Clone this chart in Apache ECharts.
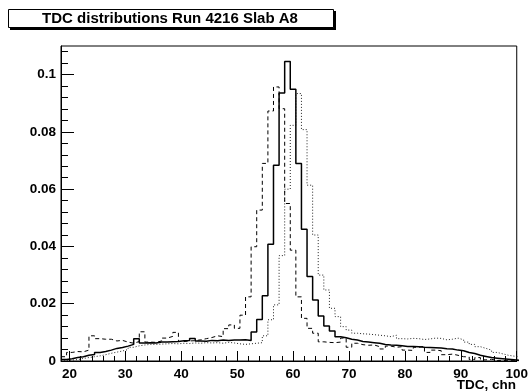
<!DOCTYPE html>
<html>
<head>
<meta charset="utf-8">
<script src="https://cdn.jsdelivr.net/npm/echarts@6/dist/echarts.min.js"></script>
<style>
html,body{margin:0;padding:0;background:#fff;}
#c{width:531px;height:392px;}
</style>
</head>
<body>
<div id="c"></div>
<script>
// TDC channels (bin centres, bin width 1)
const channels = [];
for (let c = 19; c <= 100; c++) channels.push(c);

// solid histogram
const solidVals = [
0.0005,0.0008,0.0012,0.0015,0.0020,0.0023,0.0030,0.0033,0.0038,0.0044, // 19-28
0.0047,0.0052,0.0058,0.0078,0.0063,0.0064,0.0063,0.0066,0.0066,0.0067, // 29-38
0.0068,0.0071,0.0072,0.0079,0.0070,0.0069,0.0072,0.0071,0.0073,0.0072, // 39-48
0.0073,0.0073,0.0074,0.0072,0.0101,0.0145,0.0228,0.0408,0.0684,0.0936, // 49-58
0.1046,0.0949,0.0690,0.0460,0.0295,0.0213,0.0157,0.0122,0.0105,0.0085, // 59-68
0.0081,0.0076,0.0073,0.0068,0.0066,0.0064,0.0062,0.0058,0.0056,0.0055, // 69-78
0.0053,0.0051,0.0051,0.0050,0.0048,0.0047,0.0046,0.0045,0.0043,0.0042, // 79-88
0.0038,0.0036,0.0030,0.0026,0.0020,0.0016,0.0012,0.0010,0.0008,0.0006, // 89-98
0.0004,0.0002                                                          // 99-100
];
// dashed histogram
const dashedVals = [
0.0015,0.0030,0.0033,0.0032,0.0038,0.0088,0.0078,0.0076,0.0076,0.0070,
0.0072,0.0066,0.0062,0.0068,0.0102,0.0066,0.0065,0.0070,0.0080,0.0086,
0.0100,0.0068,0.0070,0.0071,0.0074,0.0078,0.0082,0.0088,0.0085,0.0113,
0.0126,0.0114,0.0160,0.0224,0.0399,0.0527,0.0690,0.0873,0.0957,0.0881,
0.0550,0.0387,0.0224,0.0149,0.0114,0.0097,0.0067,0.0065,0.0064,0.0066,
0.0080,0.0048,0.0062,0.0057,0.0055,0.0056,0.0050,0.0042,0.0052,0.0048,
0.0050,0.0038,0.0037,0.0048,0.0052,0.0030,0.0038,0.0036,0.0022,0.0024,
0.0020,0.0015,0.0014,0.0005,0.0012,0.0004,0.0006,0.0002,0.0002,0.0001,
0.0001,0.0000
];
// dotted histogram
const dottedVals = [
0.0003,0.0003,0.0005,0.0009,0.0012,0.0015,0.0018,0.0022,0.0027,0.0031,
0.0035,0.0040,0.0048,0.0053,0.0056,0.0058,0.0058,0.0059,0.0060,0.0061,
0.0060,0.0062,0.0061,0.0063,0.0062,0.0064,0.0063,0.0064,0.0062,0.0065,
0.0063,0.0060,0.0058,0.0060,0.0062,0.0064,0.0088,0.0144,0.0196,0.0368,
0.0600,0.0823,0.0934,0.0808,0.0614,0.0440,0.0300,0.0248,0.0184,0.0155,
0.0120,0.0108,0.0097,0.0095,0.0094,0.0092,0.0090,0.0088,0.0085,0.0090,
0.0078,0.0077,0.0079,0.0078,0.0075,0.0077,0.0080,0.0079,0.0074,0.0076,
0.0080,0.0074,0.0066,0.0058,0.0050,0.0044,0.0038,0.0030,0.0025,0.0020,
0.0017,0.0015
];

const xMajorTicks = [20,30,40,50,60,70,80,90,100];
const xMinorTicks = [20,22,24,26,28,30,32,34,36,38,40,42,44,46,48,50,52,54,56,58,60,62,64,66,68,70,72,74,76,78,80,82,84,86,88,90,92,94,96,98,100];
const yMajorTicks = [0,0.02,0.04,0.06,0.08,0.1];
const yMinorTicks = [0,0.004,0.008,0.012,0.016,0.02,0.024,0.028,0.032,0.036,0.04,0.044,0.048,0.052,0.056,0.06,0.064,0.068,0.072,0.076,0.08,0.084,0.088,0.092,0.096,0.1,0.104,0.108];

const titleText = 'TDC distributions Run 4216 Slab A8';
const xTitle = 'TDC, chn';

function histPoints(vals) {
  const pts = channels.map((c, i) => [c - 0.5, vals[i]]);
  pts.push([channels[channels.length - 1] + 0.5, vals[vals.length - 1]]);
  return pts;
}

const FONT = 'Liberation Sans, Arial, Helvetica, sans-serif';
const chart = echarts.init(document.getElementById('c'), null, {renderer: 'canvas'});

const xBase = {type: 'value', min: 18.5, max: 100, gridIndex: 0, position: 'bottom',
  splitLine: {show: false}, axisLine: {onZero: false}};
const yBase = {type: 'value', min: 0, max: 0.11, gridIndex: 0, position: 'left', splitLine: {show: false}};

chart.setOption({
  animation: false,
  backgroundColor: '#fff',
  grid: {left: 61, top: 46, width: 462, height: 315, show: true, borderColor: '#000', borderWidth: 1, backgroundColor: 'transparent'},
  xAxis: [
    Object.assign({}, xBase, {
      axisLine: {show: true, onZero: false, lineStyle: {color: '#000', width: 1}},
      axisTick: {show: true, inside: true, length: 10, customValues: xMajorTicks, lineStyle: {color: '#000', width: 1}},
      axisLabel: {show: true, customValues: xMajorTicks, margin: 6, color: '#000', fontFamily: FONT, fontWeight: 'bold', fontSize: 13.5,
        hideOverlap: false, alignMinLabel: 'center', alignMaxLabel: 'center',
        formatter: v => String(v)}
    }),
    Object.assign({}, xBase, {
      axisLine: {show: false, onZero: false},
      axisTick: {show: true, inside: true, length: 5, customValues: xMinorTicks, lineStyle: {color: '#000', width: 1}},
      axisLabel: {show: false}
    })
  ],
  yAxis: [
    Object.assign({}, yBase, {
      axisLine: {show: true, lineStyle: {color: '#000', width: 1}},
      axisTick: {show: true, inside: true, length: 13, customValues: yMajorTicks, lineStyle: {color: '#000', width: 1}},
      axisLabel: {show: true, customValues: yMajorTicks, margin: 5, color: '#000', fontFamily: FONT, fontWeight: 'bold', fontSize: 13.5,
        formatter: v => String(parseFloat(Number(v).toFixed(4)))}
    }),
    Object.assign({}, yBase, {
      axisLine: {show: false},
      axisTick: {show: true, inside: true, length: 7, customValues: yMinorTicks, lineStyle: {color: '#000', width: 1}},
      axisLabel: {show: false}
    })
  ],
  series: [
    {type: 'line', xAxisIndex: 0, yAxisIndex: 0, step: 'end', showSymbol: false, symbol: 'none', clip: true,
      data: histPoints(dottedVals), lineStyle: {color: '#222', width: 1, type: [1, 2]}},
    {type: 'line', xAxisIndex: 0, yAxisIndex: 0, step: 'end', showSymbol: false, symbol: 'none', clip: true,
      data: histPoints(dashedVals), lineStyle: {color: '#000', width: 1, type: [4, 3]}},
    {type: 'line', xAxisIndex: 0, yAxisIndex: 0, step: 'end', showSymbol: false, symbol: 'none', clip: true,
      data: histPoints(solidVals), lineStyle: {color: '#000', width: 1.5}}
  ],
  graphic: [
    {type: 'rect', shape: {x: 10, y: 11, width: 326, height: 19}, style: {fill: '#000'}, z: 100},
    {type: 'rect', shape: {x: 8.5, y: 9.5, width: 325, height: 18}, style: {fill: '#fff', stroke: '#000', lineWidth: 1}, z: 101},
    {type: 'text', x: 170, y: 19, style: {text: titleText, font: 'bold 15px ' + FONT, fill: '#000', textAlign: 'center', textVerticalAlign: 'middle'}, z: 102},
    {type: 'text', x: 516, y: 385, style: {text: xTitle, font: 'bold 13.5px ' + FONT, fill: '#000', textAlign: 'right', textVerticalAlign: 'middle'}, z: 102}
  ]
});
</script>
</body>
</html>
